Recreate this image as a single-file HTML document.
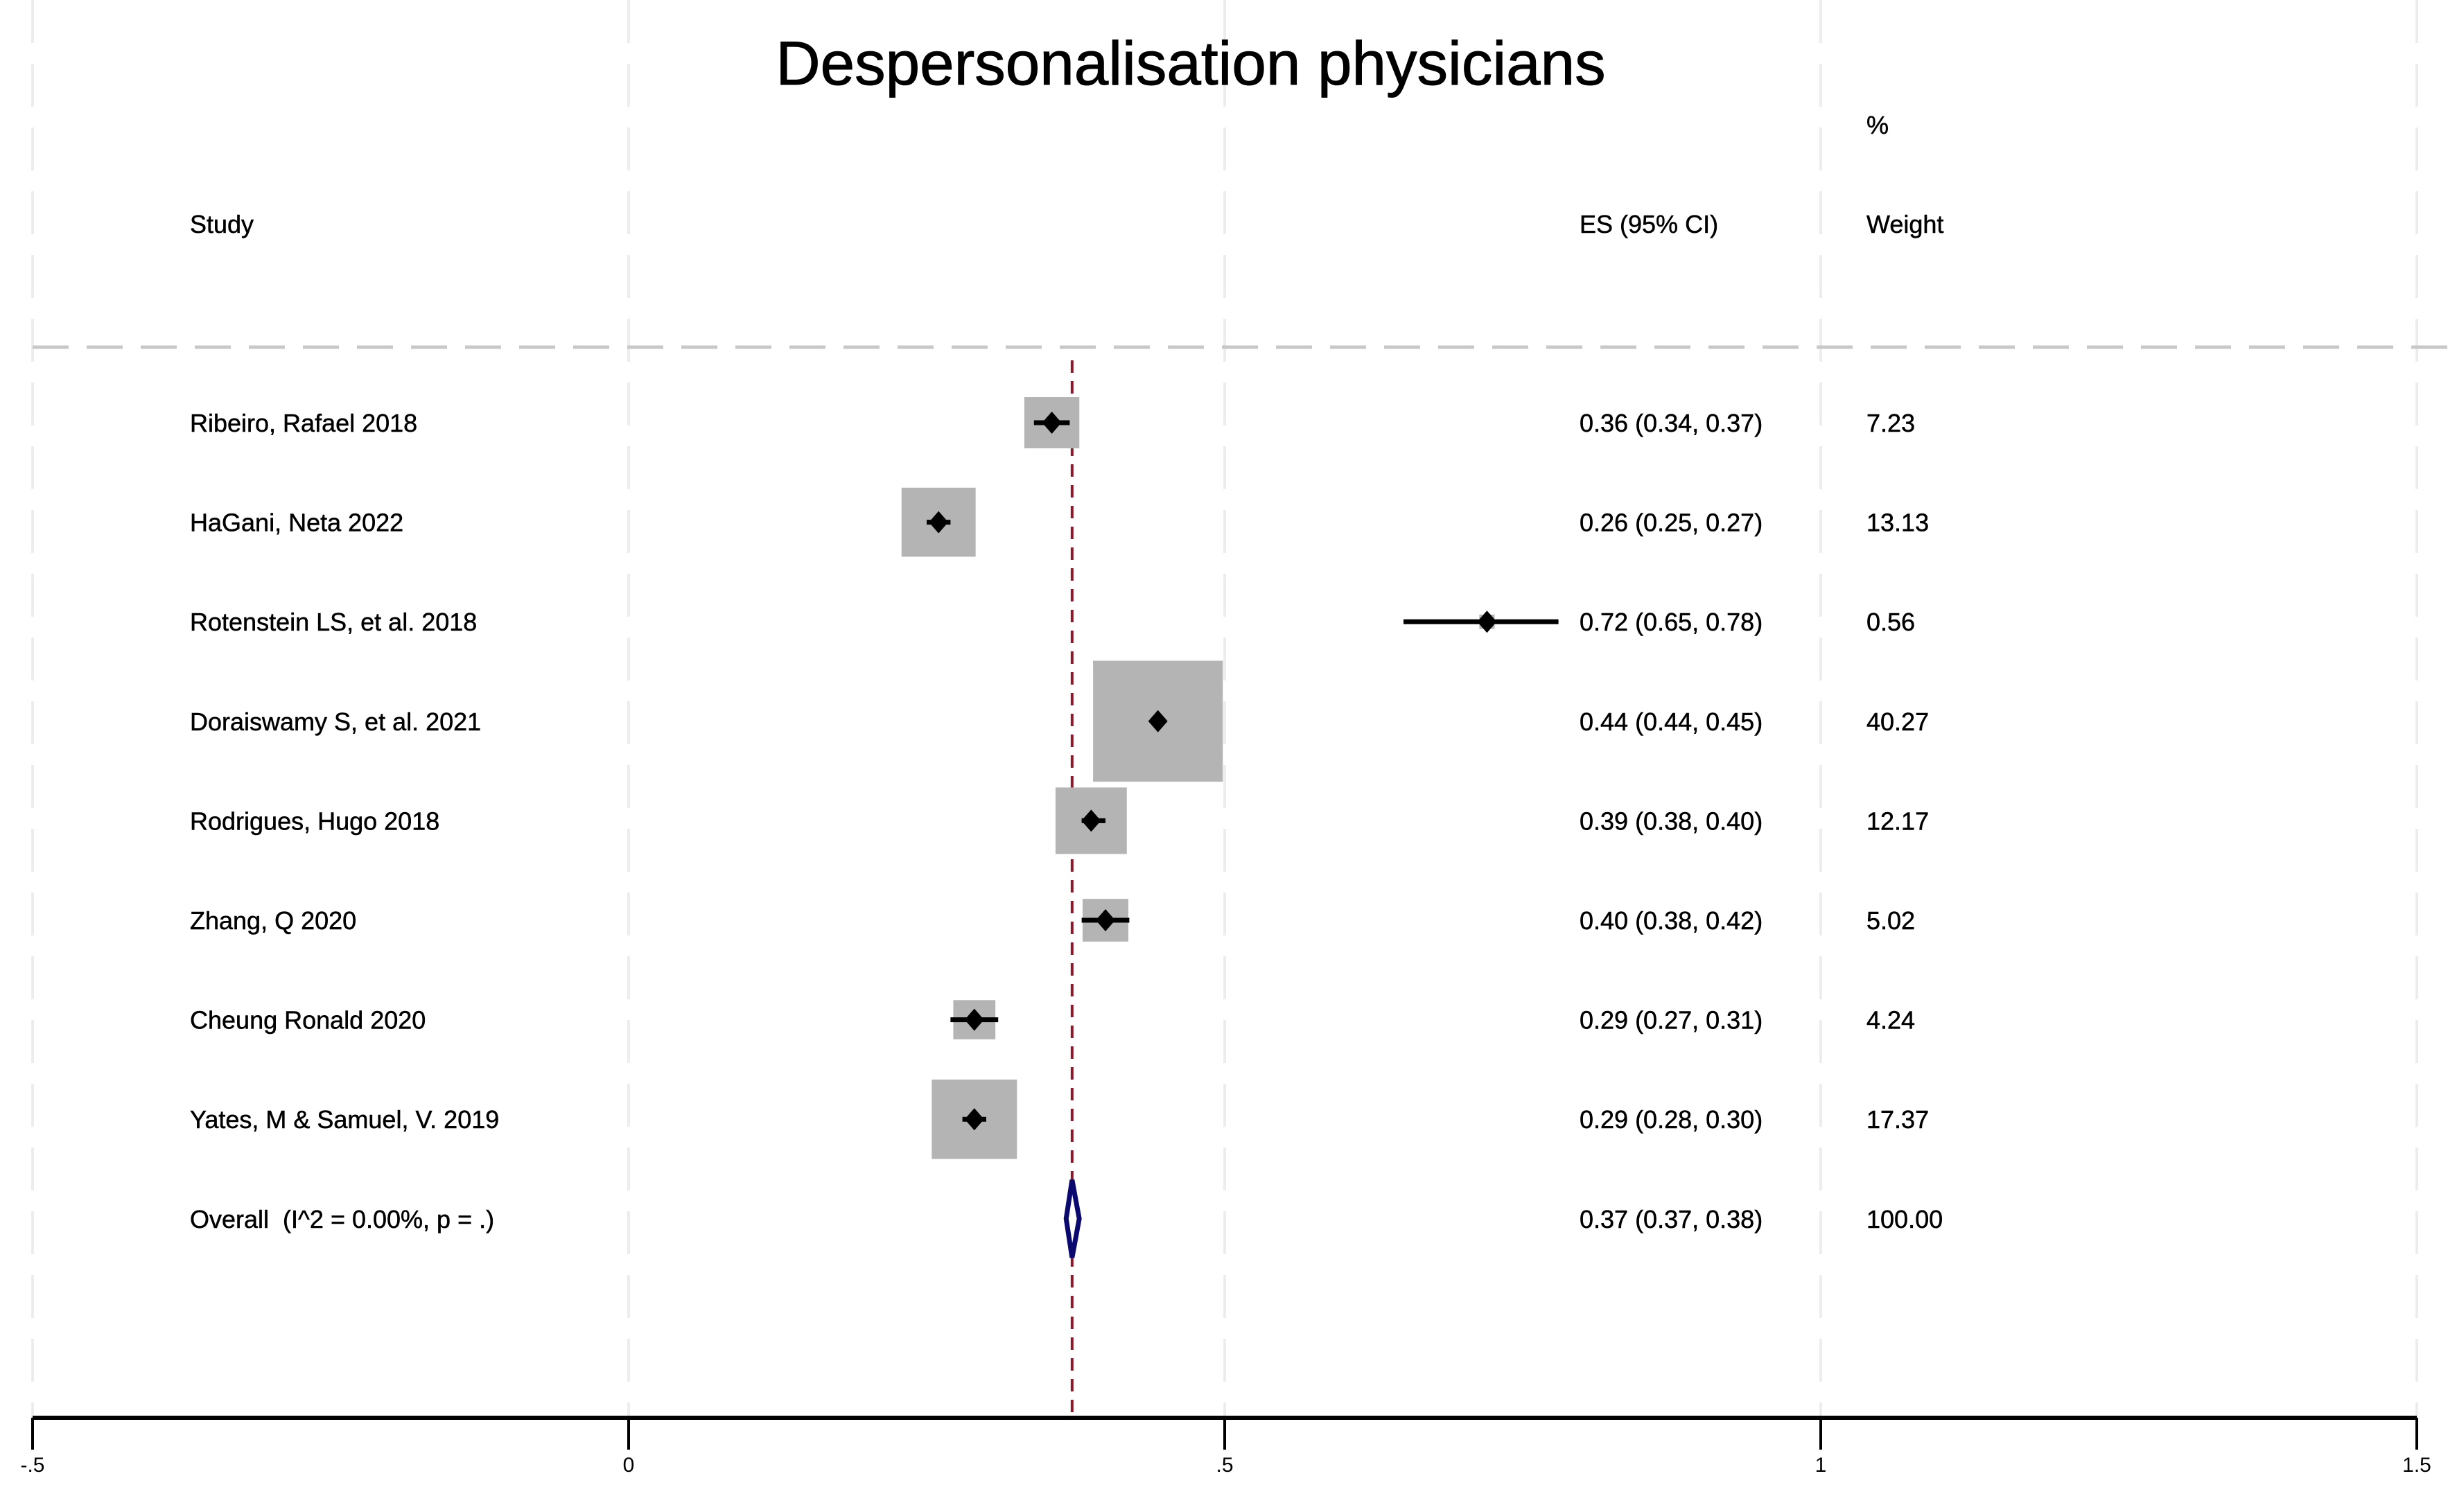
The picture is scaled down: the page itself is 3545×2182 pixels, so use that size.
<!DOCTYPE html>
<html><head><meta charset="utf-8"><style>
html,body{margin:0;padding:0;background:#fff;}
svg{display:block;font-family:"Liberation Sans",Arial,sans-serif;}
text{white-space:pre;}
.lbl{stroke:#000;stroke-width:0.5;}
</style></head><body>
<svg id="chart" width="3545" height="2182" viewBox="0 0 3545 2182" xmlns="http://www.w3.org/2000/svg">
<rect width="3545" height="2182" fill="#fff"/>
<g id="grid"></g>
<line x1="47" y1="501" x2="3545" y2="501" stroke="#c8c8c8" stroke-width="5" stroke-dasharray="52,26"/>
<text class="lbl" x="1718" y="122" font-size="89" text-anchor="middle" fill="#000" style="stroke-width:1">Despersonalisation physicians</text>
<text class="lbl" x="274" y="336" font-size="36" fill="#000">Study</text>
<text class="lbl" x="2279" y="336" font-size="36" fill="#000">ES (95% CI)</text>
<text class="lbl" x="2693" y="193" font-size="36" fill="#000">%</text>
<text class="lbl" x="2693" y="336" font-size="36" fill="#000">Weight</text>
<g id="rows"></g>
<g id="axis"></g>
</svg>
<script>
const studies = ["Ribeiro, Rafael 2018","HaGani, Neta 2022","Rotenstein LS, et al. 2018","Doraiswamy S, et al. 2021","Rodrigues, Hugo 2018","Zhang, Q 2020","Cheung Ronald 2020","Yates, M & Samuel, V. 2019"];
const es = [0.355,0.26,0.72,0.444,0.388,0.40,0.29,0.29];
const lo = [0.34,0.25,0.65,0.44,0.38,0.38,0.27,0.28];
const hi = [0.37,0.27,0.78,0.45,0.40,0.42,0.31,0.30];
const esLabels = ["0.36 (0.34, 0.37)","0.26 (0.25, 0.27)","0.72 (0.65, 0.78)","0.44 (0.44, 0.45)","0.39 (0.38, 0.40)","0.40 (0.38, 0.42)","0.29 (0.27, 0.31)","0.29 (0.28, 0.30)"];
const weights = [7.23,13.13,0.56,40.27,12.17,5.02,4.24,17.37];
const weightLabels = ["7.23","13.13","0.56","40.27","12.17","5.02","4.24","17.37"];
const overall = [0.372,0.367,0.378];
const overallLabel = "Overall  (I^2 = 0.00%, p = .)";
const overallES = "0.37 (0.37, 0.38)";
const overallW = "100.00";
const ticks = [-0.5,0,0.5,1,1.5];
const tickLabels = ["-.5","0",".5","1","1.5"];

const NS="http://www.w3.org/2000/svg";
const X = v => 907 + v*1720;
const Y = i => 610 + i*143.6;
const axisY = 2046;
function mk(tag, attrs, parent){const e=document.createElementNS(NS,tag);for(const k in attrs)e.setAttribute(k,attrs[k]);parent.appendChild(e);return e;}
const grid=document.getElementById('grid'), rows=document.getElementById('rows'), axis=document.getElementById('axis');

ticks.forEach((t,i)=>{
  const g=mk('line',{x1:X(t),x2:X(t),y1:0,y2:axisY,stroke:'#ededed','stroke-width':4,'stroke-dasharray':'62,30'},grid);
  
  
  const tk=mk('line',{x1:X(t),x2:X(t),y1:axisY,y2:2092,stroke:'#000','stroke-width':4},axis);
  
  
  const tl=mk('text',{x:X(t),y:2124,'font-size':30,'text-anchor':'middle',fill:'#000'},axis);
  tl.textContent=tickLabels[i];
  
  
});
const ax=mk('line',{x1:X(-0.5),x2:X(1.5),y1:axisY,y2:axisY,stroke:'#000','stroke-width':6},axis);



const nl=mk('line',{x1:X(overall[0]),x2:X(overall[0]),y1:520,y2:axisY,stroke:'#8b1a2a','stroke-width':4,'stroke-dasharray':'18,12'},rows);



studies.forEach((s,i)=>{
  const y=Y(i), cx=X(es[i]);
  const bw=29.5*Math.sqrt(weights[i]), bh=27.5*Math.sqrt(weights[i]);
  const b=mk('rect',{x:cx-bw/2,y:y-bh/2,width:bw,height:bh,fill:'#b4b4b4'},rows);
  
  
  const ci=mk('line',{x1:X(lo[i]),x2:X(hi[i]),y1:y,y2:y,stroke:'#000','stroke-width':7},rows);
  
  
  const d=mk('polygon',{points:`${cx-14},${y} ${cx},${y-16} ${cx+14},${y} ${cx},${y+16}`,fill:'#000'},rows);
  
  
  const t1=mk('text',{x:274,y:y+13,'font-size':36,fill:'#000','class':'lbl'},rows); t1.textContent=s;
  
  
  const t2=mk('text',{x:2279,y:y+13,'font-size':36,fill:'#000','class':'lbl'},rows); t2.textContent=esLabels[i];
  
  
  const t3=mk('text',{x:2693,y:y+13,'font-size':36,fill:'#000','class':'lbl'},rows); t3.textContent=weightLabels[i];
  
  
});
const oy=Y(studies.length);
const od=mk('polygon',{points:`${X(overall[1])},${oy} ${X(overall[0])},${oy-56} ${X(overall[2])},${oy} ${X(overall[0])},${oy+56}`,fill:'#fff',stroke:'#0a0a6e','stroke-width':7},rows);


const o1=mk('text',{x:274,y:oy+13,'font-size':36,fill:'#000','class':'lbl'},rows); o1.textContent=overallLabel;


const o2=mk('text',{x:2279,y:oy+13,'font-size':36,fill:'#000','class':'lbl'},rows); o2.textContent=overallES;


const o3=mk('text',{x:2693,y:oy+13,'font-size':36,fill:'#000','class':'lbl'},rows); o3.textContent=overallW;


</script>
</body></html>
